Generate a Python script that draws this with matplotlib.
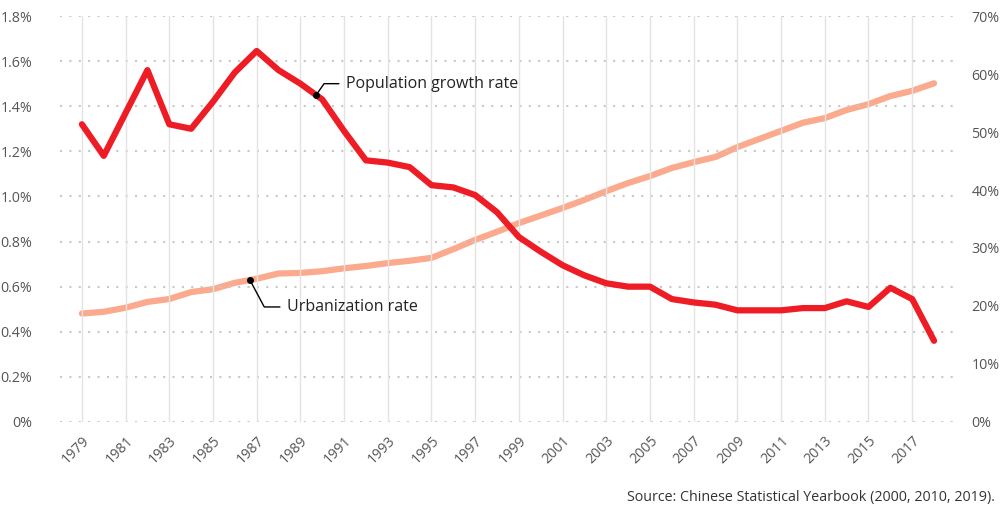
import numpy as np
import matplotlib
matplotlib.use("Agg")
import matplotlib.pyplot as plt
from matplotlib.ticker import FuncFormatter, MultipleLocator

plt.rcParams['font.family'] = ['Open Sans', 'DejaVu Sans']

years = list(range(1979, 2019))
pop_growth = [1.32, 1.18, 1.37, 1.56, 1.32, 1.30, 1.42, 1.55, 1.645, 1.56,
              1.50, 1.43, 1.29, 1.16, 1.15, 1.13, 1.05, 1.04, 1.006, 0.93,
              0.82, 0.755, 0.695, 0.65, 0.615, 0.60, 0.60, 0.545, 0.53, 0.52,
              0.495, 0.495, 0.495, 0.505, 0.505, 0.535, 0.51, 0.595, 0.545, 0.36]
urbanization = [18.7, 19.0, 19.7, 20.7, 21.2, 22.4, 22.9, 24.0, 24.7, 25.6,
                25.7, 26.0, 26.5, 26.9, 27.4, 27.8, 28.3, 29.8, 31.4, 32.8,
                34.3, 35.6, 36.9, 38.3, 39.8, 41.2, 42.4, 43.8, 44.8, 45.7,
                47.4, 48.8, 50.2, 51.6, 52.4, 53.8, 54.8, 56.2, 57.1, 58.4]
xtick_years = list(range(1979, 2018, 2))
source = "Source: Chinese Statistical Yearbook (2000, 2010, 2019)."

RED = "#EE1C25"
ORANGE = "#FBAA8E"
TICK = "#555555"

fig = plt.figure(figsize=(10.04, 5.07), dpi=100)
ax = fig.add_axes([0.0598, 0.1677, 0.8912, 0.8007])
ax2 = ax.twinx()

ax.set_xlim(1978, 2018.95)
ax.set_ylim(0, 1.8)
ax2.set_ylim(0, 70)

# grid
for yv in np.arange(0, 1.81, 0.2):
    ax.axhline(yv, color="#c8c8c8", lw=1.5, linestyle=(0, (1, 3.5)), zorder=0)
for xv in xtick_years:
    ax.axvline(xv, color="#e3e3e3", lw=1.0, zorder=0)

ax2.plot(years, urbanization, color=ORANGE, lw=4.5, solid_capstyle='round',
         solid_joinstyle='round', zorder=3)
ax.plot(years, pop_growth, color=RED, lw=4.5, solid_capstyle='round',
        solid_joinstyle='round', zorder=4)
ax.set_zorder(ax2.get_zorder() + 1)
ax.patch.set_visible(False)

ax.set_xticks(xtick_years)
ax.set_xticklabels([str(y) for y in xtick_years], rotation=45, ha='right',
                   rotation_mode='anchor', color=TICK, fontsize=10.2)
ax.yaxis.set_major_locator(MultipleLocator(0.2))
ax.yaxis.set_major_formatter(FuncFormatter(lambda v, p: "0%" if abs(v) < 1e-9 else f"{v:.1f}%"))
ax2.yaxis.set_major_locator(MultipleLocator(10))
ax2.yaxis.set_major_formatter(FuncFormatter(lambda v, p: f"{v:.0f}%"))
ax.tick_params(axis='y', length=0, pad=20, labelcolor=TICK, labelsize=10.3)
ax.tick_params(axis='x', length=0, pad=8)
ax2.tick_params(axis='y', length=0, pad=12, labelcolor=TICK, labelsize=10.3)
for a in (ax, ax2):
    for s in a.spines.values():
        s.set_visible(False)

# annotations
px = 1989.72
py = np.interp(px, years, pop_growth)
ax.plot([px], [py], 'o', color='black', ms=4, zorder=6)
ax.annotate("Population growth rate", xy=(px, py), xytext=(1991.08, 1.5),
            fontsize=11.5, color="#222222", va='center', ha='left', zorder=6,
            arrowprops=dict(arrowstyle='-', color='black', lw=1.0,
                            connectionstyle="angle,angleA=0,angleB=55,rad=0",
                            shrinkA=3, shrinkB=0))
ux = 1986.69
uy = np.interp(ux, years, urbanization)
uy_left = uy / 70 * 1.8
ax.plot([ux], [uy_left], 'o', color='black', ms=4, zorder=6)
ax.annotate("Urbanization rate", xy=(ux, uy_left), xytext=(1988.38, 0.51),
            fontsize=11.5, color="#222222", va='center', ha='left', zorder=6,
            arrowprops=dict(arrowstyle='-', color='black', lw=1.0,
                            connectionstyle="angle,angleA=0,angleB=-62,rad=0",
                            shrinkA=3, shrinkB=0))

fig.text(0.991, 0.0197, source, ha='right', va='center', fontsize=10.25, color="#333333")

fig.savefig("out.png", dpi=100)
